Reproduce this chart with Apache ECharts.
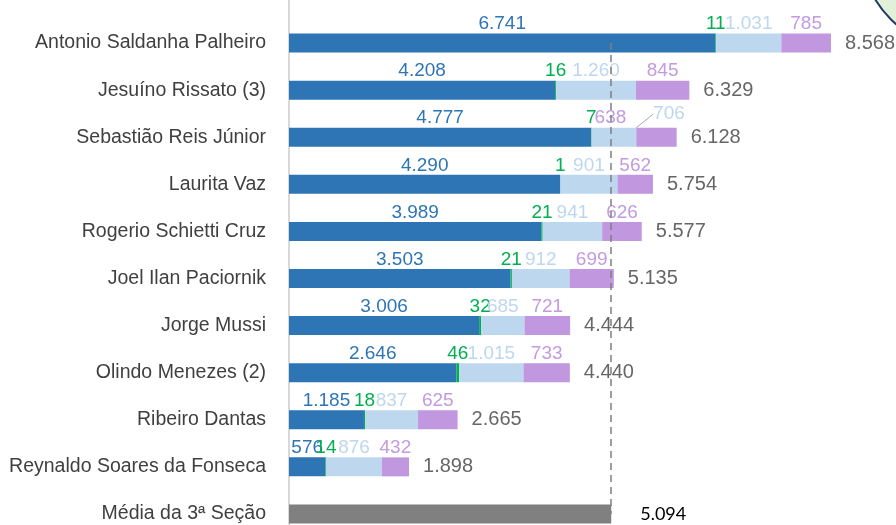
<!DOCTYPE html>
<html>
<head>
<meta charset="utf-8">
<script src="https://cdn.jsdelivr.net/npm/echarts@6/dist/echarts.min.js"></script>
<style>
  html, body { margin: 0; padding: 0; background: #fff; }
  #chart { width: 896px; height: 525px; }
</style>
</head>
<body>
<div id="chart"></div>
<script>
// dados
const categorias = [
  'Antonio Saldanha Palheiro',
  'Jesuíno Rissato (3)',
  'Sebastião Reis Júnior',
  'Laurita Vaz',
  'Rogerio Schietti Cruz',
  'Joel Ilan Paciornik',
  'Jorge Mussi',
  'Olindo Menezes (2)',
  'Ribeiro Dantas',
  'Reynaldo Soares da Fonseca',
  'Média da 3ª Seção',
];
const azul = [6741, 4208, 4777, 4290, 3989, 3503, 3006, 2646, 1185, 576];
const verde = [11, 16, 7, 1, 21, 21, 32, 46, 18, 14];
const azulClaro = [1031, 1260, 706, 901, 941, 912, 685, 1015, 837, 876];
const roxo = [785, 845, 638, 562, 626, 699, 721, 733, 625, 432];
const totais = [8568, 6329, 6128, 5754, 5577, 5135, 4444, 4440, 2665, 1898];
const media = 5094;

const fmt = (v) => v.toLocaleString('pt-BR');
const pad = (arr) => arr.concat(['-']);
const esquerda = 289; // margem do grid

const labelTopo = (cor) => ({
  show: true,
  position: 'top',
  distance: 0,
  color: cor,
  fontFamily: 'Liberation Sans',
  fontSize: 19,
  formatter: (p) => fmt(p.value),
});

// rótulos deslocados na linha do Sebastião (como no original)
const dadosAzulClaro = pad(azulClaro).map((v, i) => (i === 2
  ? { value: v, labelLine: { show: true, lineStyle: { color: '#A6A6A6', width: 1 } } }
  : v));
const dadosRoxo = pad(roxo).map((v, i) => (i === 2 ? { value: v, label: { offset: [-46, 0] } } : v));

const chart = echarts.init(document.getElementById('chart'));
chart.setOption({
  animation: false,
  grid: { left: esquerda, top: 19.5, width: 569.3, height: 518, outerBoundsMode: 'none', containLabel: false },
  xAxis: {
    type: 'value',
    min: 0,
    max: 9000,
    show: false,
  },
  yAxis: {
    type: 'category',
    inverse: true,
    data: categorias,
    axisLine: { show: true, lineStyle: { color: '#D9D9D9', width: 2 } },
    axisTick: { show: false },
    axisLabel: {
      margin: 23,
      color: '#404040',
      fontFamily: 'Liberation Sans',
      fontSize: 19.5,
    },
  },
  graphic: [
    {
      type: 'line',
      shape: { x1: esquerda, y1: 0, x2: esquerda, y2: 20 },
      style: { stroke: '#D9D9D9', lineWidth: 2 },
    },
    {
      type: 'circle',
      shape: { cx: 965, cy: -55, r: 105 },
      style: { fill: '#E2F0D9', stroke: '#1F3864', lineWidth: 2 },
      z: 100,
    },
  ],
  series: [
    {
      name: 'azul',
      type: 'bar',
      stack: 'a',
      barWidth: 19,
      data: pad(azul),
      itemStyle: { color: '#2E75B6' },
      label: labelTopo('#2E75B6'),
    },
    {
      name: 'verde',
      type: 'bar',
      stack: 'a',
      data: pad(verde),
      itemStyle: { color: '#00B050' },
      label: labelTopo('#00B050'),
    },
    {
      name: 'azulClaro',
      type: 'bar',
      stack: 'a',
      data: dadosAzulClaro,
      itemStyle: { color: '#BDD7EE' },
      label: labelTopo('#BDD7EE'),
      labelLayout: (p) => (p.dataIndex === 2 ? { dx: 55, dy: -4 } : {}),
    },
    {
      name: 'roxo',
      type: 'bar',
      stack: 'a',
      data: dadosRoxo,
      itemStyle: { color: '#C197DF' },
      label: labelTopo('#C39BE0'),
    },
    {
      name: 'media',
      type: 'bar',
      stack: 'a',
      data: categorias.map((c, i) => (i === categorias.length - 1 ? media : '-')),
      itemStyle: { color: '#808080' },
      label: {
        show: true,
        position: 'right',
        distance: 29,
        color: '#000',
        fontFamily: 'Lato',
        fontSize: 18,
        formatter: (p) => fmt(p.value),
      },
      markLine: {
        silent: true,
        symbol: 'none',
        label: { show: false },
        lineStyle: { type: [7, 5], color: '#7F7F7F', width: 1.5 },
        data: [[{ coord: [media, categorias[0]] }, { coord: [media, categorias[categorias.length - 1]] }]],
      },
    },
    {
      name: 'total',
      type: 'scatter',
      symbolSize: 0,
      data: totais.map((v, i) => [v, categorias[i]]),
      label: {
        show: true,
        position: 'right',
        distance: 14,
        color: '#404040',
        fontFamily: 'Liberation Sans',
        fontSize: 20,
        formatter: (p) => fmt(p.value[0]),
      },
      z: 5,
    },
  ],
});
</script>
</body>
</html>
